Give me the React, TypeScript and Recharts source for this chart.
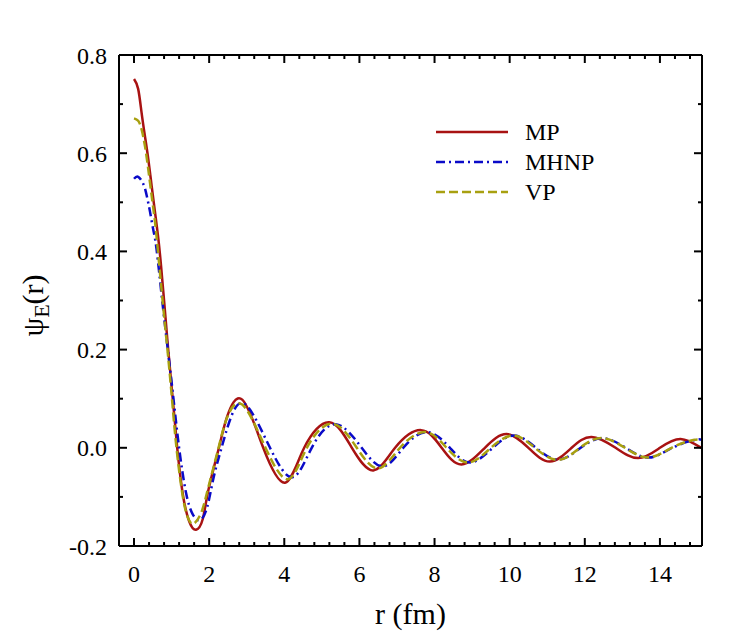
import { LineChart, Line, XAxis, YAxis, Legend, Label } from "recharts";

const FONT = "Liberation Serif";

// r (fm) / psi_E(r)
const MP_R = [0, 0.11, 0.2, 0.29, 0.38, 0.47, 0.56, 0.65, 0.72, 0.8, 0.91, 1.03, 1.15, 1.3, 1.47, 1.65, 1.83, 1.98, 2.26, 2.48, 2.88, 3.44, 4.02, 4.53, 5.2, 5.8, 6.37, 6.95, 7.64, 8.19, 8.72, 9.34, 9.92, 10.5, 11.07, 11.65, 12.18, 12.82, 13.42, 14.0, 14.55, 15.12];
const MP_PSI = [0.751, 0.731, 0.683, 0.635, 0.588, 0.533, 0.479, 0.424, 0.37, 0.3, 0.2, 0.1, 0, -0.095, -0.15, -0.167, -0.145, -0.086, 0, 0.064, 0.098, 0, -0.071, 0, 0.052, 0, -0.046, 0, 0.036, 0, -0.034, 0, 0.028, 0, -0.028, 0, 0.022, 0, -0.021, 0, 0.018, -0.001];

const MHNP_R = [0, 0.11, 0.25, 0.34, 0.43, 0.51, 0.6, 0.75, 0.9, 1.05, 1.2, 1.38, 1.56, 1.76, 1.95, 2.12, 2.33, 2.57, 2.97, 3.62, 4.22, 4.73, 5.37, 6.06, 6.63, 7.17, 7.8, 8.41, 8.95, 9.55, 10.12, 10.7, 11.3, 11.89, 12.47, 13.09, 13.7, 14.33, 14.92, 15.12];
const MHNP_PSI = [0.548, 0.552, 0.537, 0.513, 0.479, 0.445, 0.404, 0.3, 0.2, 0.1, 0, -0.09, -0.135, -0.147, -0.12, -0.06, 0, 0.06, 0.088, 0, -0.06, 0, 0.048, 0, -0.038, 0, 0.032, 0, -0.03, 0, 0.025, 0, -0.024, 0, 0.0195, 0, -0.02, 0, 0.016, 0.016];

const VP_R = [0, 0.11, 0.2, 0.29, 0.38, 0.47, 0.56, 0.65, 0.76, 0.89, 1.01, 1.13, 1.3, 1.45, 1.6, 1.8, 1.98, 2.25, 2.47, 2.88, 3.5, 4.1, 4.6, 5.28, 5.93, 6.5, 7.08, 7.75, 8.32, 8.9, 9.5, 10.1, 10.67, 11.29, 11.87, 12.45, 13.07, 13.69, 14.31, 14.89, 15.12];
const VP_PSI = [0.671, 0.666, 0.649, 0.615, 0.567, 0.513, 0.459, 0.39, 0.3, 0.2, 0.1, 0, -0.1, -0.145, -0.154, -0.13, -0.08, 0, 0.06, 0.088, 0, -0.064, 0, 0.049, 0, -0.042, 0, 0.032, 0, -0.03, 0, 0.025, 0, -0.0245, 0, 0.0198, 0, -0.0198, 0, 0.016, 0.015];

const X_MAJOR = [0, 2, 4, 6, 8, 10, 12, 14];
const X_TICKS = Array.from({ length: 38 }, (_, i) => Math.round(i * 4) / 10);
const Y_MAJOR = [-0.2, 0, 0.2, 0.4, 0.6, 0.8];
const Y_TICKS = Array.from({ length: 11 }, (_, i) => (i - 2) / 10);

const rows = (r: number[], psi: number[]) => r.map((x, i) => ({ r: x, psi: psi[i] }));

const SERIES = [
  { name: "MP", data: rows(MP_R, MP_PSI), color: "#A81212", dash: undefined as string | undefined },
  { name: "MHNP", data: rows(MHNP_R, MHNP_PSI), color: "#0A0AC8", dash: "9 4 2 4" },
  { name: "VP", data: rows(VP_R, VP_PSI), color: "#A8A010", dash: "9 4" },
];

const near = (a: number, list: number[]) => list.some((b) => Math.abs(a - b) < 1e-6);

const BottomTick = ({ x, y, payload }: any) => {
  const major = near(payload.value, X_MAJOR);
  return (
    <g>
      <line x1={x} x2={x} y1={y} y2={y - (major ? 8 : 4)} stroke="#000" strokeWidth={2} />
      {major && (
        <text x={x} y={y + 36} textAnchor="middle" fontSize={24} fontFamily={FONT} fill="#000">
          {payload.value}
        </text>
      )}
    </g>
  );
};

const TopTick = ({ x, y, payload }: any) => {
  const major = near(payload.value, X_MAJOR);
  return <line x1={x} x2={x} y1={y} y2={y + (major ? 8 : 4)} stroke="#000" strokeWidth={2} />;
};

const LeftTick = ({ x, y, payload }: any) => {
  const major = near(payload.value, Y_MAJOR);
  return (
    <g>
      <line x1={x} x2={x + (major ? 8 : 4)} y1={y} y2={y} stroke="#000" strokeWidth={2} />
      {major && (
        <text x={x - 12} y={y} dy="0.36em" textAnchor="end" fontSize={24} fontFamily={FONT} fill="#000">
          {payload.value.toFixed(1)}
        </text>
      )}
    </g>
  );
};

const RightTick = ({ x, y, payload }: any) => {
  const major = near(payload.value, Y_MAJOR);
  return <line x1={x} x2={x - (major ? 8 : 4)} y1={y} y2={y} stroke="#000" strokeWidth={2} />;
};

const YTitle = ({ viewBox }: any) => {
  const cx = viewBox.x - 16;
  const cy = viewBox.y + viewBox.height / 2 + 5;
  return (
    <text x={cx} y={cy} transform={`rotate(-90, ${cx}, ${cy})`} textAnchor="middle" fontSize={30} fontFamily={FONT} fill="#000">
      <tspan>ψ</tspan>
      <tspan fontSize={22} dy={6}>E</tspan>
      <tspan dy={-6}>(r)</tspan>
    </text>
  );
};

const renderLegend = () => (
  <svg width={200} height={100}>
    {SERIES.map((s, i) => (
      <g key={s.name}>
        <line x1={6} x2={78} y1={17 + i * 30} y2={17 + i * 30} stroke={s.color} strokeWidth={2.5} strokeDasharray={s.dash} />
        <text x={95} y={17 + i * 30} dy="0.35em" fontSize={24} fontFamily={FONT} fill="#000">
          {s.name}
        </text>
      </g>
    ))}
  </svg>
);

const axisLine = { stroke: "#000", strokeWidth: 2 };

export default function App() {
  return (
    <div style={{ position: "absolute", left: 0, top: 0, background: "#fff" }}>
      <LineChart width={730} height={643} margin={{ top: 45, right: 18, bottom: 57, left: 59 }}>
        <XAxis
          dataKey="r" type="number" domain={[-0.4, 15.12]} allowDataOverflow ticks={X_TICKS} interval={0}
          tickSize={0} tickMargin={0} tickLine={false} axisLine={axisLine} tick={BottomTick} height={40}
        >
          <Label value="r (fm)" position="bottom" offset={0} dy={17} fontSize={30} fontFamily={FONT} fill="#000" />
        </XAxis>
        <XAxis
          xAxisId="top" orientation="top" dataKey="r" type="number" domain={[-0.4, 15.12]} allowDataOverflow ticks={X_TICKS}
          interval={0} tickSize={0} tickMargin={0} tickLine={false} axisLine={axisLine} tick={TopTick} height={10}
        />
        <YAxis
          type="number" domain={[-0.2, 0.8]} allowDataOverflow ticks={Y_TICKS} interval={0} tickSize={0} tickMargin={0}
          tickLine={false} axisLine={axisLine} tick={LeftTick} width={60}
        >
          <Label content={YTitle} />
        </YAxis>
        <YAxis
          yAxisId="right" orientation="right" type="number" domain={[-0.2, 0.8]} allowDataOverflow ticks={Y_TICKS}
          interval={0} tickSize={0} tickMargin={0} tickLine={false} axisLine={axisLine} tick={RightTick} width={10}
        />
        <Legend
          layout="horizontal" verticalAlign="middle" align="center" content={renderLegend}
          wrapperStyle={{ position: "absolute", left: 430, top: 115, width: 200, height: 100 }}
        />
        {SERIES.map((s) => (
          <Line
            key={s.name} name={s.name} data={s.data} dataKey="psi" type="natural" stroke={s.color} strokeWidth={2.5}
            strokeDasharray={s.dash} dot={false} activeDot={false} isAnimationActive={false}
          />
        ))}
      </LineChart>
    </div>
  );
}
